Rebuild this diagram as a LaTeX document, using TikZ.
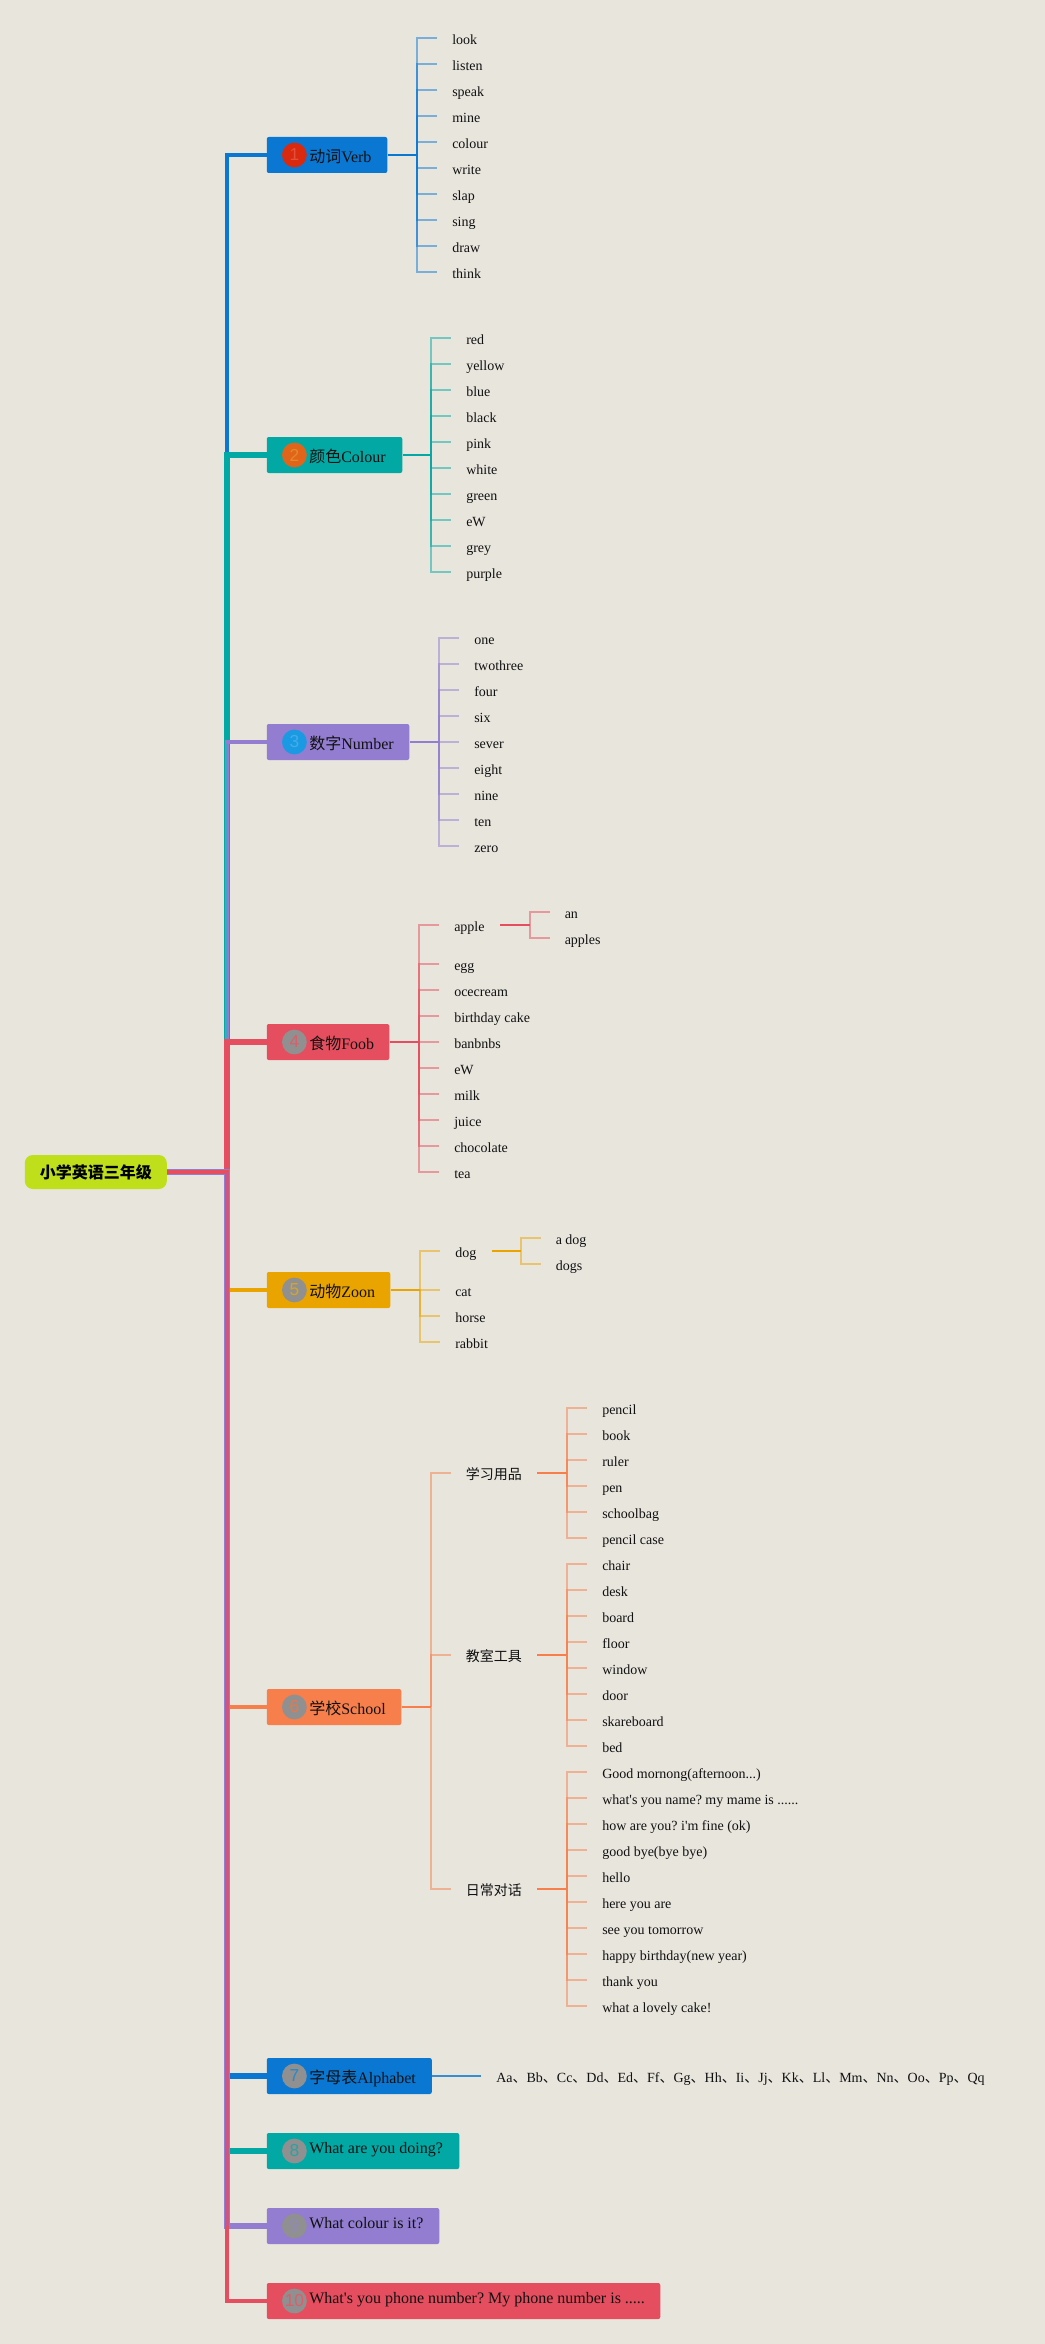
\documentclass[tikz,border=0pt]{standalone}
\usepackage{fontspec}
\setmainfont{Liberation Serif}
\newfontfamily\plainrm{Liberation Serif}
\newfontfamily\cjk{Noto Sans CJK SC}
\newfontfamily\digitfont{Liberation Sans}
\frenchspacing
\definecolor{bgc}{HTML}{E8E5DD}
\definecolor{cblue}{HTML}{0A78D2}
\definecolor{cteal}{HTML}{02A8A4}
\definecolor{cpurple}{HTML}{927DD0}
\definecolor{cred}{HTML}{E54E5E}
\definecolor{corange}{HTML}{E9A400}
\definecolor{ccoral}{HTML}{F67F4B}
\definecolor{clime}{HTML}{BEDF1A}
\definecolor{ink}{HTML}{111111}
\definecolor{trunkA}{HTML}{4A9FC8}
\definecolor{trunkB}{HTML}{CE5580}
\tikzset{
  boxnode/.style={rectangle,rounded corners=1.5pt,minimum height=27pt,inner sep=0pt,anchor=west},
  dot/.style={circle,minimum size=18.6pt,inner sep=0pt,font=\digitfont\fontsize{13}{13}\selectfont},
  boxtext/.style={anchor=base west,inner sep=0pt,text=ink,font=\plainrm\fontsize{12}{14}\selectfont},
  leaf/.style={anchor=west,inner xsep=11.25pt,inner ysep=0pt,text height=11pt,text depth=1pt,text=ink,font=\plainrm\fontsize{10.5}{12}\selectfont},
  twig/.style={line width=1.4pt,opacity=.5},
  link/.style={line width=1.5pt},
}
\newcommand{\leaves}[6]{% prefix, branch, xend, colour, first y, items
  \foreach \t [count=\i] in {#6}{
    \pgfmathsetmacro{\yy}{#5+26*(\i-1)}
    \node[leaf] (#1\i) at (#3,\yy) {\t};
    \draw[twig,draw=#4] (#2) |- (#1\i.west);
  }
}
\newcommand{\oneleaf}[6]{% name, branch, xend, colour, y, text
  \node[leaf] (#1) at (#3,#5) {#6};
  \draw[twig,draw=#4] (#2) |- (#1.west);
}
\newcommand{\topic}[7]{% name, width, cy, colour, digit, dot colour, digit colour
  \definecolor{tmpdot}{HTML}{#6}\definecolor{tmpdig}{HTML}{#7}
  \node[boxnode,fill=#4,minimum width=#2*.75pt] (#1) at (266.5,#3) {};
  \node[dot,fill=tmpdot,text=tmpdig] (#1d) at (294.4,#3) {#5};
}
\begin{document}
\begin{tikzpicture}[x=.75pt,y=-.75pt]
\fill[bgc] (0,0) rectangle (1045,2344);
\useasboundingbox (0,0) rectangle (1045,2344);

% root
\node[rectangle,rounded corners=6pt,fill=clime,minimum width=106.5pt,minimum height=25.5pt,inner sep=0pt,text=black,font=\cjk\bfseries\fontsize{12}{14}\selectfont] (root) at (95.8,1172) {小学英语三年级};
\coordinate (joint) at (227,1172);

% topics
\topic{vb}{120.5}{155}{cblue}{1}{D9290F}{E2503A}
\topic{co}{135.5}{455}{cteal}{2}{E0651A}{E08A2A}
\topic{nu}{142.5}{742}{cpurple}{3}{1A9AE2}{45ACE8}
\topic{fo}{122.5}{1042}{cred}{4}{909090}{D8606A}
\topic{zo}{123.5}{1290}{corange}{5}{909090}{D8A428}
\topic{sc}{134.5}{1707}{ccoral}{6}{909090}{E8784A}
\topic{al}{165}{2076}{cblue}{7}{909090}{2A88C8}
\topic{wd}{192.5}{2151}{cteal}{8}{909090}{30A0A0}
\topic{wc}{172.5}{2226}{cpurple}{9}{909090}{9088BC}
\topic{ph}{393.5}{2301}{cred}{10}{909090}{D8606A}

\node[boxtext] (vbt) at (309,162) {{\cjk 动词}Verb};
\node[boxtext] (cot) at (309,462) {{\cjk 颜色}Colour};
\node[boxtext] (nut) at (309,749) {{\cjk 数字}Number};
\node[boxtext] (fot) at (309,1049) {{\cjk 食物}Foob};
\node[boxtext] (zot) at (309,1297) {{\cjk 动物}Zoon};
\node[boxtext] (sct) at (309,1714) {{\cjk 学校}School};
\node[boxtext] (alt) at (309,2083) {{\cjk 字母表}Alphabet};
\node[boxtext] (wdt) at (309,2153) {What are you doing?};
\node[boxtext] (wct) at (309,2228.5) {What colour is it?};
\node[boxtext] (pht) at (309,2303.5) {What's you phone number? My phone number is .....};

% main elbows, in drawing order: later ones lie over earlier ones on the trunk
\draw[cblue,line width=2.4pt] (root.east) -- (joint) |- (vb.west);
\draw[cteal,line width=4.5pt] (root.east) -- (joint) |- (co.west);
\draw[cpurple,line width=3pt] (root.east) -- (joint) |- (nu.west);
\coordinate (midA) at (227,744);
\coordinate (midB) at (227,1042);
\draw[draw=trunkA,line width=2.2pt] (midA) -- (midB);
\draw[cred,line width=4.5pt] (root.east) -- (joint) |- (fo.west);
\draw[corange,line width=3pt] (joint) |- (zo.west);
\draw[ccoral,line width=2.6pt] (joint) |- (sc.west);
\draw[cblue,line width=3.8pt] (joint) |- (al.west);
\draw[cteal,line width=3.8pt] (joint) |- (wd.west);
\draw[cpurple,line width=3.8pt] (root.east) -- (joint) |- (wc.west);
\draw[cred,line width=3pt] (root.east) -- (joint) |- (ph.west);
\coordinate (midC) at (227,2226);
\draw[draw=trunkB,line width=3pt] (joint) -- (midC);

% 1 Verb
\coordinate (vbj) at (417,155);
\draw[link,cblue] (vb.east) -- (vbj);
\leaves{v}{vbj}{437}{cblue}{38}{look,listen,speak,mine,colour,write,slap,sing,draw,think}

% 2 Colour
\coordinate (coj) at (431,455);
\draw[link,cteal] (co.east) -- (coj);
\leaves{c}{coj}{451}{cteal}{338}{red,yellow,blue,black,pink,white,green,eW,grey,purple}

% 3 Number
\coordinate (nuj) at (439,742);
\draw[link,cpurple] (nu.east) -- (nuj);
\leaves{n}{nuj}{459}{cpurple}{638}{one,twothree,four,six,sever,eight,nine,ten,zero}

% 4 Food
\coordinate (foj) at (418.6,1042);
\draw[link,cred] (fo.east) -- (foj);
\oneleaf{apple}{foj}{439}{cred}{925}{apple}
\leaves{f}{foj}{439}{cred}{964}{egg,ocecream,birthday cake,banbnbs,eW,milk,juice,chocolate,tea}
\coordinate (apj) at (530,925);
\draw[link,cred] (apple.east) -- (apj);
\oneleaf{an}{apj}{549.5}{cred}{912}{an}
\oneleaf{apples}{apj}{549.5}{cred}{938}{apples}

% 5 Zoon
\coordinate (zoj) at (420,1290);
\draw[link,corange] (zo.east) -- (zoj);
\oneleaf{dog}{zoj}{440}{corange}{1251}{dog}
\leaves{z}{zoj}{440}{corange}{1290}{cat,horse,rabbit}
\coordinate (doj) at (521,1251);
\draw[link,corange] (dog.east) -- (doj);
\oneleaf{adog}{doj}{540.5}{corange}{1238}{a dog}
\oneleaf{dogs}{doj}{540.5}{corange}{1264}{dogs}

% 6 School
\coordinate (scj) at (430.6,1707);
\draw[link,ccoral] (sc.east) -- (scj);
\oneleaf{xx}{scj}{450.6}{ccoral}{1473}{{\cjk 学习用品}}
\oneleaf{jg}{scj}{450.6}{ccoral}{1655}{{\cjk 教室工具}}
\oneleaf{rc}{scj}{450.6}{ccoral}{1889}{{\cjk 日常对话}}
\coordinate (xxj) at (567,1473);
\coordinate (jgj) at (567,1655);
\coordinate (rcj) at (567,1889);
\draw[link,ccoral] (xx.east) -- (xxj);
\draw[link,ccoral] (jg.east) -- (jgj);
\draw[link,ccoral] (rc.east) -- (rcj);
\leaves{s}{xxj}{587}{ccoral}{1408}{pencil,book,ruler,pen,schoolbag,pencil case}
\leaves{t}{jgj}{587}{ccoral}{1564}{chair,desk,board,floor,window,door,skareboard,bed}
\oneleaf{d1}{rcj}{587}{ccoral}{1772}{Good mornong(afternoon...)}
\oneleaf{d2}{rcj}{587}{ccoral}{1798}{what's you name? my mame is ......}
\leaves{dd}{rcj}{587}{ccoral}{1824}{{how are you? i'm fine (ok)},{good bye(bye bye)},hello,here you are,see you tomorrow,{happy birthday(new year)},thank you,what a lovely cake!}

% 7 Alphabet
\newcommand{\dun}{{\cjk 、}}
\node[leaf] (abc) at (481,2076) {Aa\dun Bb\dun Cc\dun Dd\dun Ed\dun Ff\dun Gg\dun Hh\dun Ii\dun Jj\dun Kk\dun Ll\dun Mm\dun Nn\dun Oo\dun Pp\dun Qq};
\draw[cblue,line width=1.1pt,opacity=.8] (al.east) -- (abc.west);
\end{tikzpicture}
\end{document}
